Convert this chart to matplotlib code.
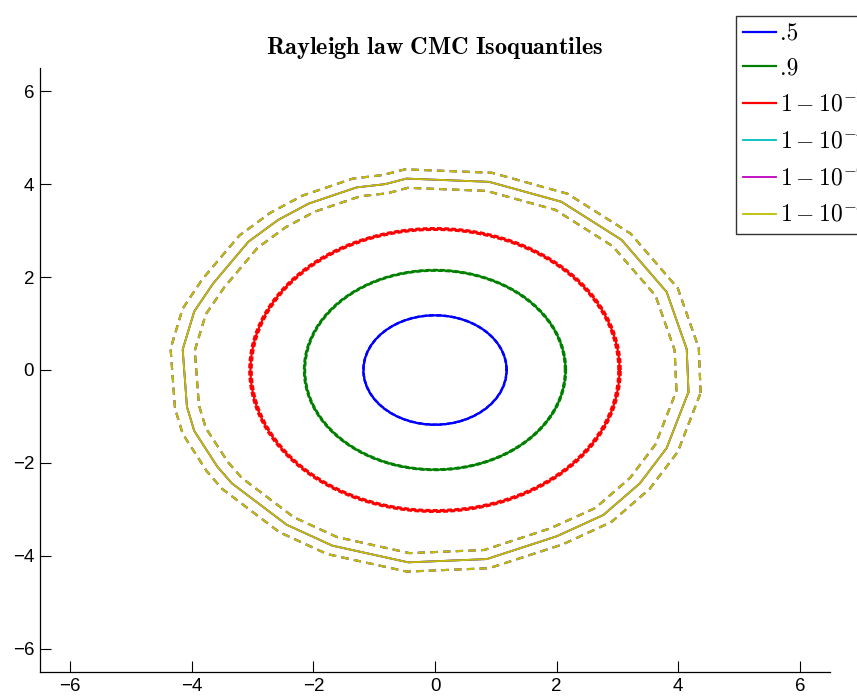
import numpy as np
import matplotlib
matplotlib.use("Agg")
import matplotlib.pyplot as plt

plt.rcParams['mathtext.fontset'] = 'cm'
plt.rcParams['font.family'] = ['Liberation Sans', 'DejaVu Sans']

# ---------------- data ----------------
labels = ['.5', '.9', r'$1-10^{-2}$', r'$1-10^{-4}$', r'$1-10^{-6}$', r'$1-10^{-8}$']
colors = ['#0000ff', '#008000', '#ff0000', '#00bfbf', '#bf00bf', '#bfbf00']

# isoquantile radii of the (near circular) estimated contours
circle_radii = [1.177, 2.146, 3.035]
# half-width of the dashed confidence band around each circular contour
circle_band = [0.005, 0.012, 0.022]

# extreme isoquantile contour (same estimate for 1-1e-4, 1-1e-6, 1-1e-8)
extreme_x = [4.17, 4.14, 3.81, 3.07, 2.08, 0.89, -0.47, -0.82, -1.29, -2.08, -2.58,
             -3.07, -3.65, -3.96, -4.15, -4.08, -3.96, -3.58, -3.34, -2.44, -1.69,
             -0.44, 0.85, 2.00, 2.77, 3.37, 3.81]
extreme_y = [-0.47, 0.45, 1.68, 2.80, 3.62, 4.05, 4.12, 4.00, 3.93, 3.58, 3.23,
             2.76, 1.86, 1.26, 0.44, -0.79, -1.31, -2.08, -2.44, -3.33, -3.78,
             -4.14, -4.07, -3.58, -3.12, -2.44, -1.68]
extreme_band = 0.20

title = r'$\mathbf{Rayleigh\ law\ CMC\ Isoquantiles}$'
ticks = [-6, -4, -2, 0, 2, 4, 6]

# ---------------- plot ----------------
fig = plt.figure(figsize=(8.57, 6.97), dpi=100)
ax = fig.add_axes([39.8/857, 1-672/697, (830.2-39.8)/857, (672-68)/697])

theta = np.linspace(0, 2*np.pi, 361)
handles = []
for r, b, c, lab in zip(circle_radii, circle_band, colors[:3], labels[:3]):
    h, = ax.plot(r*np.cos(theta), r*np.sin(theta), color=c, lw=1.6, label=lab)
    for s in (-1, 1):
        rr = r + s*b
        ax.plot(rr*np.cos(theta), rr*np.sin(theta), color=c, lw=1.4,
                dashes=(2.5, 1.2))
    handles.append(h)

ex = np.array(extreme_x + extreme_x[:1])
ey = np.array(extreme_y + extreme_y[:1])
er = np.hypot(ex, ey)
for c, lab in zip(colors[3:], labels[3:]):
    for s in (-1, 1):
        f = (er + s*extreme_band)/er
        ax.plot(ex*f, ey*f, color=c, lw=1.5, dashes=(3.5, 2.6))
    h, = ax.plot(ex, ey, color=c, lw=1.3, label=lab)
    handles.append(h)

ax.set_xlim(-6.5, 6.5)
ax.set_ylim(-6.5, 6.5)
ax.set_xticks(ticks)
ax.set_yticks(ticks)
ax.set_xticklabels([str(t).replace('-', '\u2212') for t in ticks])
ax.set_yticklabels([str(t).replace('-', '\u2212') for t in ticks])
for sp in ('top', 'right'):
    ax.spines[sp].set_visible(False)
for sp in ('left', 'bottom'):
    ax.spines[sp].set_linewidth(0.9)
ax.tick_params(direction='in', length=8, width=0.8, labelsize=13.5, pad=4,
               top=False, right=False)

ax.set_title(title, fontsize=17.5, pad=10)

leg = fig.legend(handles=handles, loc='upper left',
                 bbox_to_anchor=(736/857, 1-16/697),
                 bbox_transform=fig.transFigure,
                 prop={'family': 'cmr10', 'size': 17},
                 frameon=True, fancybox=False, edgecolor='black',
                 handlelength=1.4, handletextpad=0.15, labelspacing=0.5,
                 borderpad=0.3, borderaxespad=0)
leg.get_frame().set_linewidth(1.0)

fig.savefig('out.png', dpi=100)
